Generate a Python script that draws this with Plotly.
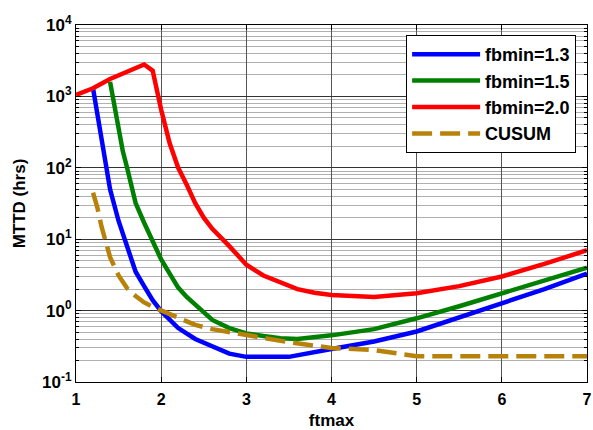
import plotly.graph_objects as go

# ---- data ----
x_13 = [1.2, 1.25, 1.3, 1.35, 1.4, 1.5, 1.6, 1.65, 1.7, 1.8, 1.9, 2.0, 2.2, 2.4, 2.6, 2.8, 3.0, 3.5, 4.0, 4.5, 5.0, 5.5, 6.0, 6.5, 7.0]
y_13 = [1300, 600, 250, 110, 50, 18, 7.8, 5.3, 3.5, 2.2, 1.4, 0.98, 0.57, 0.40, 0.31, 0.25, 0.225, 0.225, 0.29, 0.37, 0.51, 0.8, 1.25, 2.0, 3.3]

x_15 = [1.4, 1.45, 1.5, 1.55, 1.6, 1.7, 1.8, 1.9, 2.0, 2.1, 2.2, 2.3, 2.4, 2.5, 2.6, 2.8, 3.0, 3.2, 3.4, 3.6, 3.8, 4.0, 4.5, 5.0, 5.5, 6.0, 6.5, 7.0]
y_15 = [1600, 750, 330, 170, 100, 32, 17, 9.5, 5.2, 3.3, 2.1, 1.55, 1.2, 0.97, 0.74, 0.57, 0.48, 0.44, 0.41, 0.4, 0.42, 0.45, 0.55, 0.78, 1.15, 1.75, 2.7, 4.0]

x_20 = [1.0, 1.2, 1.4, 1.6, 1.8, 1.9, 2.0, 2.1, 2.2, 2.3, 2.4, 2.5, 2.6, 2.8, 3.0, 3.2, 3.4, 3.6, 3.8, 4.0, 4.5, 5.0, 5.5, 6.0, 6.5, 7.0]
y_20 = [1050, 1300, 1750, 2200, 2800, 2300, 650, 220, 100, 58, 32, 20, 14, 8.0, 4.4, 3.1, 2.45, 2.0, 1.78, 1.65, 1.55, 1.75, 2.2, 3.0, 4.5, 7.0]

x_cu = [1.2, 1.25, 1.3, 1.35, 1.4, 1.5, 1.6, 1.7, 1.8, 1.9, 2.0, 2.2, 2.4, 2.6, 2.8, 3.0, 3.5, 4.0, 4.5, 5.0, 5.5, 6.0, 6.5, 7.0]
y_cu = [45, 28, 15, 9, 5.6, 3.1, 2.05, 1.6, 1.3, 1.13, 1.0, 0.78, 0.63, 0.55, 0.5, 0.455, 0.36, 0.3, 0.28, 0.23, 0.23, 0.23, 0.23, 0.23]

names = ["fbmin=1.3", "fbmin=1.5", "fbmin=2.0", "CUSUM"]
colors = ["#0000ff", "#008000", "#ff0000", "#b8820a"]

x_ticks = [1, 2, 3, 4, 5, 6, 7]
y_decades = [-1, 0, 1, 2, 3, 4]

FONT = "Arial, Liberation Sans, sans-serif"

fig = go.Figure()
series = [(x_13, y_13), (x_15, y_15), (x_20, y_20), (x_cu, y_cu)]
for i, ((xs, ys), nm, c) in enumerate(zip(series, names, colors)):
    fig.add_trace(go.Scatter(
        x=xs, y=ys, mode="lines", name=nm, legendgroup=str(i),
        line=dict(color=c, width=4.5, dash="20px,8px" if nm == "CUSUM" else "solid"),
    ))

minor_vals = [m * 10 ** d for d in y_decades[:-1] for m in range(2, 10)]

fig.update_layout(
    width=593, height=430,
    margin=dict(l=76, r=6, t=25, b=48),
    paper_bgcolor="white", plot_bgcolor="white",
    font=dict(family=FONT, size=16, color="black", weight="bold"),
    showlegend=True,
    legend=dict(
        x=0.646, y=0.972, xanchor="left", yanchor="top",
        bgcolor="white", bordercolor="black", borderwidth=1,
        font=dict(family=FONT, size=18, color="black", weight="bold"),
        tracegroupgap=0, itemwidth=68,
    ),
    xaxis=dict(
        range=[1, 7], tickvals=x_ticks, ticktext=[str(v) for v in x_ticks],
        showline=True, linecolor="black", linewidth=1, mirror="ticks",
        ticks="inside", ticklen=5, tickcolor="black",
        showgrid=True, gridcolor="#555555", gridwidth=1,
        zeroline=False, ticklabelstandoff=3, automargin=False,
        tickfont=dict(family=FONT, size=16, color="black", weight="bold"),
        title=dict(text="ftmax", font=dict(family=FONT, size=17, weight="bold"), standoff=8),
    ),
    yaxis=dict(
        type="log", range=[-1, 4],
        tickvals=[10 ** d for d in y_decades],
        ticktext=["10<sup>%d</sup>" % d for d in y_decades],
        showline=True, linecolor="black", linewidth=1, mirror="ticks",
        ticks="inside", ticklen=5, tickcolor="black",
        showgrid=True, gridcolor="#333333", gridwidth=1,
        zeroline=False, automargin=False,
        tickfont=dict(family=FONT, size=17, color="black", weight="bold"),
        minor=dict(tickmode="array", tickvals=minor_vals, ticks="inside", ticklen=3,
                   tickcolor="black", showgrid=True, gridcolor="#b0b0b0", gridwidth=1),
        title=dict(text="MTTD (hrs)", font=dict(family=FONT, size=17, weight="bold"), standoff=12),
    ),
)

fig.write_html("out.html")
